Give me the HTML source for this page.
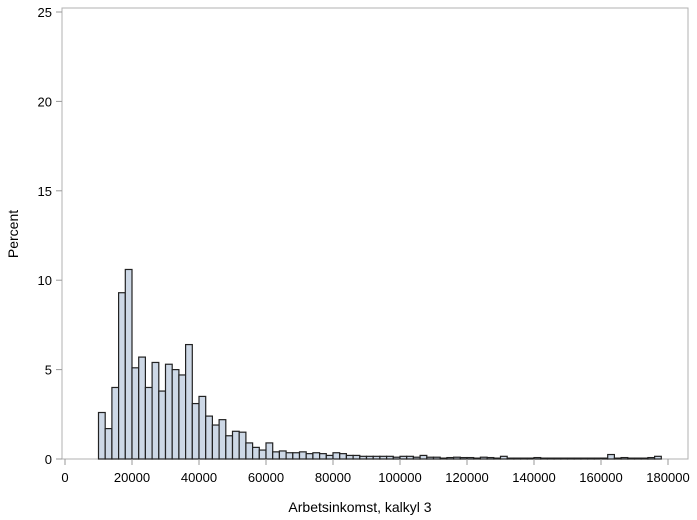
<!DOCTYPE html>
<html><head><meta charset="utf-8"><style>
body{margin:0;background:#fff;}
svg{display:block;font-family:"Liberation Sans",sans-serif;}
</style></head><body>
<svg id="s" width="697" height="520" xmlns="http://www.w3.org/2000/svg">
<rect x="62" y="8" width="626" height="451" fill="#fff" stroke="#b0b0b0" stroke-width="1"/>
<g id="bars"></g>
<g id="ax" fill="#000" font-size="13"></g>
<text x="360" y="512" text-anchor="middle" font-size="14">Arbetsinkomst, kalkyl 3</text>
<text transform="translate(18,234) rotate(-90)" text-anchor="middle" font-size="14">Percent</text>
</svg>
<script>
var v=[2.6,1.7,4.0,9.3,10.6,5.1,5.7,4.0,5.4,3.8,5.3,5.0,4.7,6.4,3.1,3.5,2.4,1.9,2.2,1.3,1.55,1.5,0.9,0.65,0.5,
0.9,0.4,0.45,0.35,0.35,0.4,0.3,0.35,0.3,0.2,0.35,0.3,0.2,0.2,0.15,0.15,0.15,0.15,0.15,0.1,0.15,0.15,0.1,0.2,0.1,
0.1,0.05,0.08,0.1,0.08,0.08,0.05,0.1,0.08,0.05,0.15,0.05,0.05,0.05,0.05,0.08,0.05,0.05,0.05,0.05,0.05,0.05,0.05,0.05,0.05,0.05,
0.25,0.05,0.08,0.05,0.05,0.05,0.08,0.15];
var X=function(d){return 65+d*603/180000},Y=function(p){return 459-p*17.88};
var h='';
for(var i=0;i<v.length;i++){var x0=X(10000+2000*i),x1=X(12000+2000*i),y=Y(v[i]);
h+='<rect x="'+x0.toFixed(2)+'" y="'+y.toFixed(2)+'" width="'+(x1-x0).toFixed(2)+'" height="'+(459-y).toFixed(2)+'" fill="#cdd8e6" stroke="#222" stroke-width="1.2"/>';}
document.getElementById('bars').innerHTML=h;
var a='';
for(var p=0;p<=25;p+=5){var y=Y(p);a+='<line x1="56" x2="62" y1="'+y+'" y2="'+y+'" stroke="#999"/><text x="52" y="'+(y+5)+'" text-anchor="end">'+p+'</text>';}
for(var d=0;d<=180000;d+=20000){var x=X(d);a+='<line x1="'+x+'" x2="'+x+'" y1="459" y2="465" stroke="#999"/><text x="'+x+'" y="482" text-anchor="middle">'+d+'</text>';}
document.getElementById('ax').innerHTML=a;
</script>
</body></html>
